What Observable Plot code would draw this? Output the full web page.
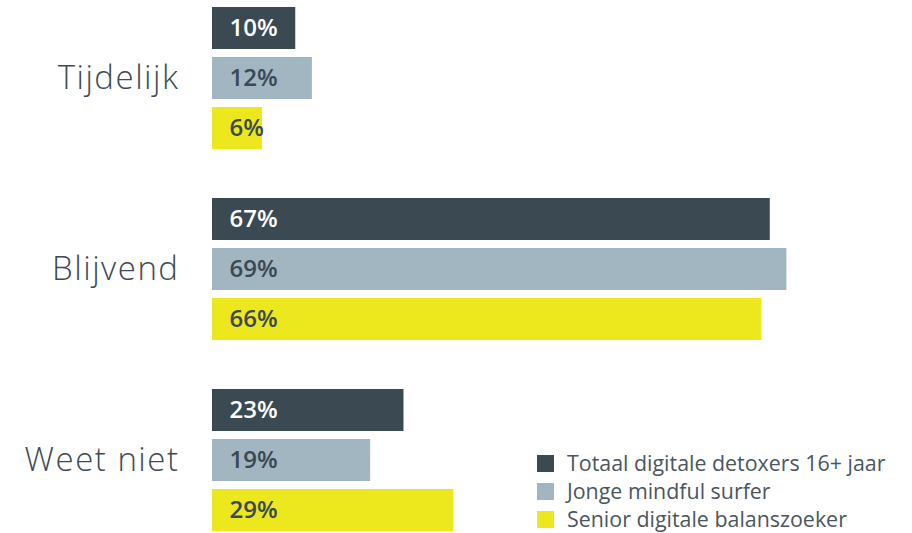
<!DOCTYPE html>
<html>
<head>
<meta charset="utf-8">
<script src="https://cdn.jsdelivr.net/npm/d3@7"></script>
<script src="https://cdn.jsdelivr.net/npm/@observablehq/plot@0.6"></script>
<style>
  html, body { margin: 0; padding: 0; background: #fff; }
  #wrap { position: relative; width: 912px; height: 533px; font-family: "Open Sans", sans-serif; overflow: hidden; }
  #wrap svg { display: block; }
  #legend { position: absolute; left: 537px; top: 449px; }
  .row { display: flex; align-items: center; height: 28px; }
  .sw { width: 17px; height: 17px; margin-right: 13px; flex: none; }
  .lab { font-size: 21.4px; color: #4a565e; white-space: nowrap; line-height: 1; }
</style>
</head>
<body>
<div id="wrap"></div>
<script>
const groups = ["Tijdelijk", "Blijvend", "Weet niet"];
const series = ["Totaal digitale detoxers 16+ jaar", "Jonge mindful surfer", "Senior digitale balanszoeker"];
const totaal = [10, 67, 23];
const jonge = [12, 69, 19];
const senior = [6, 66, 29];
const colors = ["#3b4953", "#a1b6c1", "#ece81d"];

const valuesBySeries = [totaal, jonge, senior];
const data = groups.flatMap((g, i) => series.map((s, j) => ({group: g, series: s, value: valuesBySeries[j][i]})));

const chart = Plot.plot({
  width: 912,
  height: 533,
  marginLeft: 212,
  marginRight: 34,
  marginTop: 6,
  marginBottom: 2,
  style: {fontFamily: "'Open Sans', sans-serif", background: "white"},
  x: {domain: [0, 80], axis: null},
  y: {domain: series, axis: null, paddingInner: 0.16, paddingOuter: 0},
  fy: {domain: groups, axis: null, paddingInner: 0.2585, paddingOuter: 0},
  color: {domain: series, range: colors},
  marks: [
    Plot.barX(data, {fy: "group", y: "series", x: "value", fill: "series"}),
    Plot.text(data.filter(d => d.series === series[0]), {
      fy: "group", y: "series", x: 0, text: d => d.value + "%",
      textAnchor: "start", dx: 17, fill: "white", fontSize: 24, fontWeight: 600
    }),
    Plot.text(data.filter(d => d.series !== series[0]), {
      fy: "group", y: "series", x: 0, text: d => d.value + "%",
      textAnchor: "start", dx: 17, fill: "#3b4953", fontSize: 24, fontWeight: 600
    }),
    Plot.text(groups, {
      fy: d => d, text: d => d, frameAnchor: "left", dx: -33, textAnchor: "end",
      fontSize: 33, fontWeight: 300, fill: "#3d4b55"
    })
  ]
});

const wrap = document.getElementById("wrap");
wrap.appendChild(chart);
chart.querySelectorAll('[font-size="33"]').forEach(g => g.setAttribute("letter-spacing", "1.5"));

const legend = document.createElement("div");
legend.id = "legend";
series.forEach((s, i) => {
  const row = document.createElement("div");
  row.className = "row";
  const sw = document.createElement("span");
  sw.className = "sw";
  sw.style.background = colors[i];
  const lab = document.createElement("span");
  lab.className = "lab";
  lab.textContent = s;
  row.appendChild(sw);
  row.appendChild(lab);
  legend.appendChild(row);
});
wrap.appendChild(legend);
</script>
</body>
</html>
